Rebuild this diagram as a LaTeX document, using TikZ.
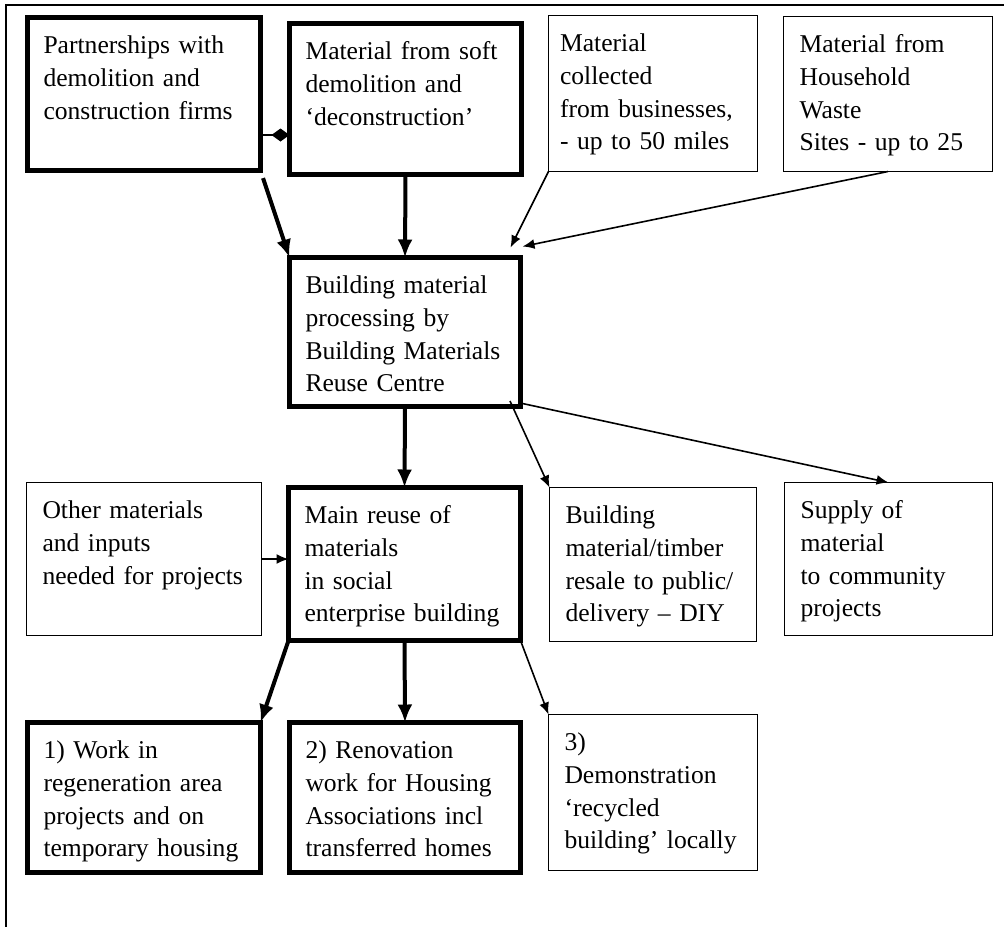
\documentclass[tikz,border=0pt]{standalone}
\usepackage{fontspec}
\setmainfont{Liberation Serif}
\usepackage{tikz}
\usetikzlibrary{calc}
\usetikzlibrary{arrows.meta}
\tikzset{>=latex}
\tikzstyle{box} = [draw=black, anchor=north west, align=left, outer sep=0pt, inner xsep=8pt, inner ysep=0pt, text height=18pt, font=\fontsize{12.8}{16.4}\selectfont]
\tikzstyle{heavy} = [box, line width=2.4pt]
\tikzstyle{light} = [box, line width=0.8pt]
\tikzstyle{bigarrow} = [-{Latex[length=9pt, width=7.5pt]}, line width=2pt]
\tikzstyle{smallarrow} = [-{Latex[length=6pt, width=5pt]}, line width=0.8pt]

\begin{document}
\begin{tikzpicture}[x=0.5pt, y=-0.5pt]
\useasboundingbox (0, 0) rectangle (1004, 927);
\draw [line width=1pt] (1004, 5) -- (6, 5) -- (6, 927);
% sources
\node [heavy, text width=100.5pt, text depth=58.5pt] (part) at (27.5, 17.5) {Partnerships with\\ demolition and\\ construction firms};
\node [heavy, text width=100pt, text depth=57.5pt] (soft) at (289.5, 23.5) {Material from soft\\ demolition and\\ ‘deconstruction’};
\node [light, inner xsep=5.75pt, text width=93pt, text depth=60pt] (biz) at (548.5, 15.5) {Material\\ collected\\ from businesses,\\ - up to 50 miles};
\node [light, text width=88.5pt, text depth=59.5pt] (hwrc) at (783.5, 16.5) {Material from\\ Household\\ Waste\\ Sites - up to 25};
% processing
\node [heavy, text width=99.5pt, text depth=56.5pt] (proc) at (289.5, 257.5) {Building material\\ processing by\\ Building Materials\\ Reuse Centre};
% uses
\node [light, text width=101.5pt, text depth=58.5pt] (other) at (26.5, 482.5) {Other materials\\ and inputs\\ needed for projects};
\node [heavy, text width=100pt, text depth=58.5pt] (reuse) at (288.5, 487.5) {Main reuse of\\ materials\\ in social\\ enterprise building};
\node [light, text width=87.5pt, text depth=59pt] (resale) at (549.5, 487.5) {Building\\ material/timber\\ resale to public/\\ delivery – DIY};
\node [light, text width=88pt, text depth=58.5pt] (supply) at (784.5, 482.5) {Supply of\\ material\\ to community\\ projects};
% projects
\node [heavy, text width=100.5pt, text depth=57pt] (regen) at (27.5, 722.5) {1) Work in\\ regeneration area\\ projects and on\\ temporary housing};
\node [heavy, text width=99.5pt, text depth=57pt] (renov) at (289.5, 722.5) {2) Renovation\\ work for Housing\\ Associations incl\\ transferred homes};
\node [light, text width=88.5pt, text depth=60pt] (demo) at (548.5, 714.5) {3)\\ Demonstration\\ ‘recycled\\ building’ locally};

\coordinate (tie) at (0, 135);
\coordinate (bizend) at ($(proc.north east)+(-10, -10)$);
\coordinate (hwrcend) at ($(proc.north east)+(2, -11)$);
\draw [-{Diamond[length=9pt, width=6.5pt]}, line width=0.8pt] (part.east |- tie) to (soft.west |- tie);
\draw [bigarrow, shorten <=4pt] (part.south east) to (proc.north west);
\draw [bigarrow] (soft.south) to (proc.north);
\draw [smallarrow] (biz.south west) to (bizend);
\draw [smallarrow] (hwrc.south) to (hwrcend);
\draw [bigarrow] (proc.south) to (reuse.north);
\draw [smallarrow] ($(proc.south east)+(-10.5, -5.5)$) to (resale.north west);
\draw [smallarrow] ($(proc.south east)+(2, -3)$) to (supply.north);
\draw [smallarrow] (other.east) to (other.east -| reuse.west);
\draw [bigarrow] (reuse.south west) to (regen.north east);
\draw [bigarrow] (reuse.south) to (renov.north);
\draw [smallarrow] (reuse.south east) to (demo.north west);
\end{tikzpicture}
\end{document}
